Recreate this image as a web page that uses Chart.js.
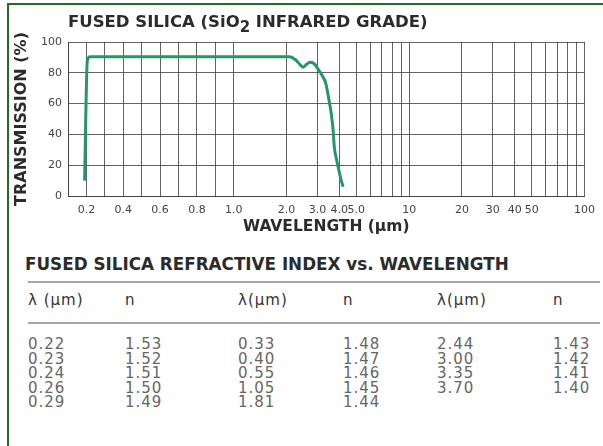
<!DOCTYPE html>
<html>
<head>
<meta charset="utf-8">
<script src="https://cdn.jsdelivr.net/npm/chart.js@4.4.0/dist/chart.umd.min.js"></script>
<style>
  html, body { margin: 0; padding: 0; background: #fff; }
  #page { position: relative; width: 603px; height: 446px; overflow: hidden; font-family: "DejaVu Sans", sans-serif; }
  #frame { position: absolute; left: 7px; top: 3px; width: 610px; height: 460px; border-left: 2px solid #236b23; border-top: 2px solid #236b23; }
  #chartBox { position: absolute; left: 0; top: 0; width: 603px; height: 245px; }
  .tbl-title { position: absolute; left: 25px; top: 255px; font-weight: bold; font-size: 16.8px; line-height: 18px; color: #2b2b2b; white-space: nowrap; }
  .rule { position: absolute; left: 28px; width: 572px; height: 2px; background: #a5a5a5; }
  .cell { position: absolute; white-space: nowrap; }
  .head { color: #333; font-size: 15px; line-height: 16px; letter-spacing: 1px; }
  .val { color: #666; font-size: 15px; line-height: 14px; letter-spacing: 1px; }
</style>
</head>
<body>
<div id="page">
  <div id="frame"></div>
  <div id="chartBox"><canvas id="silica-chart" width="603" height="245"></canvas></div>
  <div class="tbl-title">FUSED SILICA REFRACTIVE INDEX vs. WAVELENGTH</div>
  <div class="rule" style="top:281px"></div>
  <div class="rule" style="top:322px"></div>
  <div id="tableCells"></div>
</div>
<script>
// transmission curve
const wavelength = [0.19, 0.205, 0.22, 0.3, 0.5, 1.0, 1.5, 2.08, 2.25, 2.4, 2.49, 2.6, 2.73, 2.9, 3.04, 3.2, 3.35, 3.47, 3.6, 3.69, 3.74, 3.85, 3.95, 4.08, 4.2];
const transmission = [10, 88, 90.5, 90.5, 90.5, 90.5, 90.5, 90.5, 88.5, 85, 83.6, 85.5, 86.8, 85.5, 82, 78, 73, 64, 53, 42, 32, 24, 18, 11, 6];

// axis grid and labels
const xGridValues = [0.1, 0.2, 0.3, 0.4, 0.5, 0.6, 0.7, 0.8, 0.9, 1, 2, 3, 4, 5, 6, 7, 8, 9, 10, 20, 30, 40, 50, 60, 70, 80, 90, 100];
const xTickLabels = ['0.2', '0.4', '0.6', '0.8', '1.0', '2.0', '3.0', '4.0', '5.0', '10', '20', '30', '40', '50', '100'];
const yTickLabels = [0, 20, 40, 60, 80, 100];

// refractive index table
const tableHeaders = ['λ (µm)', 'n', 'λ(µm)', 'n', 'λ(µm)', 'n'];
const lambdaCol1 = ['0.22', '0.23', '0.24', '0.26', '0.29'];
const indexCol1 = ['1.53', '1.52', '1.51', '1.50', '1.49'];
const lambdaCol2 = ['0.33', '0.40', '0.55', '1.05', '1.81'];
const indexCol2 = ['1.48', '1.47', '1.46', '1.45', '1.44'];
const lambdaCol3 = ['2.44', '3.00', '3.35', '3.70'];
const indexCol3 = ['1.43', '1.42', '1.41', '1.40'];

const SPLIT = 0.321; // share of the axis used by the linear 0.1-1.0 part

// linear from 0.1 to 1.0, then log from 1 to 100 (like the graph paper)
class SplitScale extends Chart.LinearScale {
    determineDataLimits() {
        this.min = 0.1;
        this.max = 100;
    }
    buildTicks() {
        return xGridValues.map(v => ({ value: v }));
    }
    toDecimal(v) {
        if (v <= 1) return SPLIT * (v - 0.1) / 0.9;
        return SPLIT + (1 - SPLIT) * Math.log10(v) / 2;
    }
    getPixelForValue(value) {
        return this.getPixelForDecimal(this.toDecimal(value));
    }
    getValueForPixel(pixel) {
        const d = this.getDecimalForPixel(pixel);
        if (d <= SPLIT) return 0.1 + 0.9 * d / SPLIT;
        return Math.pow(10, 2 * (d - SPLIT) / (1 - SPLIT));
    }
}
SplitScale.id = 'split';
SplitScale.defaults = {};
Chart.register(SplitScale);

const titlePlugin = {
    id: 'silicaTitle',
    afterDraw(chart) {
        const ctx = chart.ctx;
        let x = chart.chartArea.left;
        const y = 27;
        ctx.save();
        ctx.fillStyle = '#2b2b2b';
        ctx.textBaseline = 'alphabetic';
        const parts = [['FUSED SILICA (SiO', 0], ['2', 1], [' INFRARED GRADE)', 0]];
        parts.forEach(([text, sub]) => {
            ctx.font = sub ? 'bold 15px "DejaVu Sans"' : 'bold 16.5px "DejaVu Sans"';
            ctx.fillText(text, x, sub ? y + 5 : y);
            x += ctx.measureText(text).width;
        });
        ctx.restore();
    }
};

function buildTable() {
    const box = document.getElementById('tableCells');
    const colX = [28, 125, 238, 343, 437, 553];
    const cols = [lambdaCol1, indexCol1, lambdaCol2, indexCol2, lambdaCol3, indexCol3];
    tableHeaders.forEach((h, i) => {
        const d = document.createElement('div');
        d.className = 'cell head';
        d.style.left = colX[i] + 'px';
        d.style.top = '292px';
        d.textContent = h;
        box.appendChild(d);
    });
    cols.forEach((col, i) => {
        col.forEach((txt, r) => {
            const d = document.createElement('div');
            d.className = 'cell val';
            d.style.left = colX[i] + 'px';
            d.style.top = (337 + r * 14.5) + 'px';
            d.textContent = txt;
            box.appendChild(d);
        });
    });
}

function createChart() {
    buildTable();
    const gridColor = 'rgba(60,60,60,0.8)';
    const ctx = document.getElementById('silica-chart').getContext('2d');
    new Chart(ctx, {
        type: 'line',
        data: {
            datasets: [{
                data: wavelength.map((w, i) => ({ x: w, y: transmission[i] })),
                borderColor: '#25966a',
                borderWidth: 3,
                pointRadius: 0,
                tension: 0.3,
                cubicInterpolationMode: 'monotone',
                fill: false
            }]
        },
        options: {
            responsive: false,
            animation: false,
            layout: { padding: { top: 42, right: 10, left: 0, bottom: 0 } },
            plugins: { legend: { display: false }, tooltip: { enabled: false } },
            scales: {
                x: {
                    type: 'split',
                    grid: { color: gridColor, lineWidth: 1, drawTicks: false },
                    border: { color: gridColor },
                    ticks: {
                        autoSkip: false,
                        maxRotation: 0,
                        padding: 8,
                        color: '#444',
                        font: { family: 'DejaVu Sans', size: 11 },
                        callback: v => xTickLabels.find(l => parseFloat(l) === v) || ''
                    },
                    title: {
                        display: true,
                        text: 'WAVELENGTH (µm)',
                        color: '#2b2b2b',
                        font: { family: 'DejaVu Sans', size: 15.5, weight: 'bold' },
                        padding: { top: 0, bottom: 9 }
                    },
                    afterFit: s => { s.height = 49; }
                },
                y: {
                    min: 0,
                    max: 100,
                    grid: { color: gridColor, lineWidth: 1, drawTicks: false },
                    border: { color: gridColor },
                    ticks: {
                        stepSize: 10,
                        padding: 6,
                        color: '#444',
                        font: { family: 'DejaVu Sans', size: 11 },
                        callback: v => yTickLabels.includes(v) ? v : ''
                    },
                    title: {
                        display: true,
                        text: 'TRANSMISSION (%)',
                        color: '#2b2b2b',
                        font: { family: 'DejaVu Sans', size: 16, weight: 'bold' },
                        padding: { top: 12, bottom: 0 }
                    },
                    afterFit: s => { s.width = 68; }
                }
            }
        },
        plugins: [titlePlugin]
    });
}

document.addEventListener('DOMContentLoaded', createChart);
</script>
</body>
</html>
